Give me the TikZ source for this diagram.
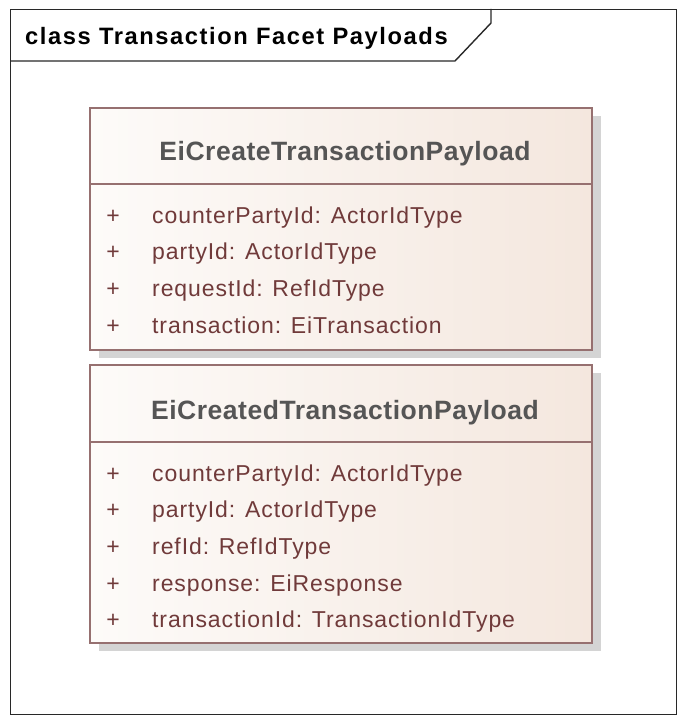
\documentclass[tikz,border=0pt]{standalone}
\usepackage{fontspec}
\usetikzlibrary{shadows}
\setmainfont{Liberation Sans}
\newfontfamily\attrfont[LetterSpace=4]{Liberation Sans}
\newfontfamily\headfont[LetterSpace=2]{Liberation Sans}
\newfontfamily\framefont[LetterSpace=6.7]{Liberation Sans}
\definecolor{umlborder}{RGB}{150,112,112}
\definecolor{umltext}{RGB}{112,58,58}
\definecolor{umlhead}{RGB}{85,85,85}
\definecolor{umlfillL}{RGB}{253,251,249}
\definecolor{umlfillR}{RGB}{244,231,222}
\definecolor{umlshadow}{RGB}{212,212,212}
\definecolor{frameline}{RGB}{40,40,40}
\tikzset{
  framebox/.style={draw=frameline, line width=1.4pt, inner sep=0pt},
  frametab/.style={draw=frameline, line width=1.4pt},
  frametitle/.style={inner sep=0pt, font=\framefont\bfseries\fontsize{23.7pt}{28pt}\selectfont},
  classbox/.style={draw=umlborder, line width=1.5pt, inner sep=0pt,
    left color=umlfillL, right color=umlfillR,
    drop shadow={shadow xshift=9pt, shadow yshift=-8pt, fill=umlshadow, opacity=1}},
  classsep/.style={draw=umlborder, line width=1.5pt},
  classname/.style={inner sep=0pt, text=umlhead, font=\headfont\bfseries\fontsize{26.5pt}{30pt}\selectfont},
  attr/.style={inner sep=0pt, anchor=base west, text=umltext, font=\attrfont\fontsize{23pt}{27pt}\selectfont},
  vis/.style={inner sep=0pt, anchor=base, text=umltext, font=\attrfont\fontsize{23pt}{27pt}\selectfont}
}
\begin{document}
\begin{tikzpicture}[x=1pt,y=-1pt]
\useasboundingbox (0,0) rectangle (678,719);
\fill[white] (0,0) rectangle (678,719);

% diagram frame with its name tab
\node[framebox, anchor=north west, minimum width=666pt, minimum height=705pt] (frame) at (10,9) {};
\coordinate (tabL) at (10,61);
\coordinate (tabB) at (455,61);
\coordinate (tabD) at (491,23);
\coordinate (tabT) at (491,9);
\draw[frametab] (tabL) -- (tabB) -- (tabD) -- (tabT);
\node[frametitle, anchor=base west] (ftitle) at (25,45) {class Transaction Facet Payloads};

% EiCreateTransactionPayload
\node[classbox, minimum width=502pt, minimum height=242pt] (c1) at (341,229) {};
\coordinate (c1sepL) at (90,184);
\coordinate (c1sepR) at (592,184);
\draw[classsep] (c1sepL) -- (c1sepR);
\node[classname, anchor=base] (c1name) at (345,161) {EiCreateTransactionPayload};
\foreach \t [count=\i] in {counterPartyId: ActorIdType, partyId: ActorIdType, requestId: RefIdType, transaction: EiTransaction}{
  \node[vis] (c1v\i) at (113,{223+36.7*(\i-1)}) {+};
  \node[attr] (c1a\i) at (152,{223+36.7*(\i-1)}) {\t};
}

% EiCreatedTransactionPayload
\node[classbox, minimum width=502pt, minimum height=278pt] (c2) at (341,504) {};
\coordinate (c2sepL) at (90,442);
\coordinate (c2sepR) at (592,442);
\draw[classsep] (c2sepL) -- (c2sepR);
\node[classname, anchor=base] (c2name) at (345,419) {EiCreatedTransactionPayload};
\foreach \t [count=\i] in {counterPartyId: ActorIdType, partyId: ActorIdType, refId: RefIdType, response: EiResponse, transactionId: TransactionIdType}{
  \node[vis] (c2v\i) at (113,{481+36.7*(\i-1)}) {+};
  \node[attr] (c2a\i) at (152,{481+36.7*(\i-1)}) {\t};
}
\end{tikzpicture}
\end{document}
